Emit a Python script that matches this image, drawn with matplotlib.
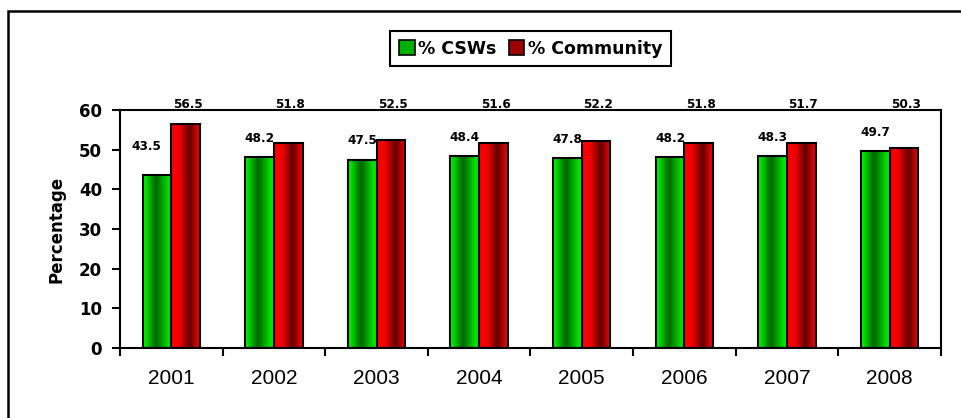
import matplotlib.pyplot as plt
import numpy as np
from matplotlib.colors import LinearSegmentedColormap
from matplotlib.patches import Rectangle, Patch

years = ['2001', '2002', '2003', '2004', '2005', '2006', '2007', '2008']
csw = [43.5, 48.2, 47.5, 48.4, 47.8, 48.2, 48.3, 49.7]
community = [56.5, 51.8, 52.5, 51.6, 52.2, 51.8, 51.7, 50.3]

plt.rcParams['font.family'] = ['DejaVu Sans']

green_cm = LinearSegmentedColormap.from_list(
    'g', [(0, '#00ff00'), (0.45, '#006400'), (1, '#00ff00')])
red_cm = LinearSegmentedColormap.from_list(
    'r', [(0, '#ff0000'), (0.3, '#ee0000'), (0.65, '#600000'), (1, '#ff0000')])

fig = plt.figure(figsize=(9.61, 4.18), dpi=100)
ax = fig.add_axes([0.1249, 0.1675, 0.979 - 0.1249, 0.5694])

x = np.arange(len(years))
w = 0.28
grad = np.linspace(0, 1, 64).reshape(1, -1)

b1 = ax.bar(x - w / 2, csw, w, facecolor='none', edgecolor='black', linewidth=1.5, zorder=3)
b2 = ax.bar(x + w / 2, community, w, facecolor='none', edgecolor='black', linewidth=1.5, zorder=3)
for bars, cm in ((b1, green_cm), (b2, red_cm)):
    for b in bars:
        x0, h = b.get_x(), b.get_height()
        ax.imshow(grad, cmap=cm, aspect='auto', extent=[x0, x0 + w, 0, h],
                  zorder=2, interpolation='bicubic')

ax.set_xlim(-0.5, len(years) - 0.5)
ax.set_ylim(0, 60)

for i, v in enumerate(csw):
    dy, dx = (7.4, -0.1) if i == 0 else (4.7, 0)
    ax.text(i - w / 2 + dx, v + dy, f'{v}', ha='center', va='center',
            fontsize=8.7, fontweight='bold', clip_on=False)
for i, v in enumerate(community):
    ax.text(i + w / 2 + 0.02, 61.5, f'{v}', ha='center', va='center',
            fontsize=8.7, fontweight='bold', clip_on=False)

ax.set_yticks(range(0, 61, 10))
ax.set_yticklabels([str(t) for t in range(0, 61, 10)], fontsize=12, fontweight='bold')
ax.set_xticks(x)
ax.set_xticklabels(years, fontsize=15, family=['Liberation Sans', 'DejaVu Sans'])
ax.tick_params(axis='x', which='major', length=0, pad=15)
ax.set_xticks(np.arange(-0.5, len(years)), minor=True)
ax.tick_params(axis='x', which='minor', length=6, width=1.5, direction='out')
ax.tick_params(axis='y', length=6, width=1.5, direction='out', pad=7)
for s in ax.spines.values():
    s.set_linewidth(1.5)
fig.text(56.5 / 961, 1 - 229 / 418, 'Percentage', rotation=90, ha='center', va='center',
         fontsize=12, fontweight='bold')

handles = [Patch(facecolor='#00b000', edgecolor='black', linewidth=1.2),
           Patch(facecolor='#a00000', edgecolor='black', linewidth=1.2)]
leg = fig.legend(handles, ['% CSWs', '% Community'], loc='center',
                 bbox_to_anchor=(530.5 / 961, 1 - 48.5 / 418), ncol=2, fancybox=False,
                 edgecolor='black', framealpha=1, handlelength=0.9, handleheight=0.9,
                 handletextpad=0.2, columnspacing=0.7, borderpad=0.5,
                 prop={'size': 12.5, 'weight': 'bold'})
leg.get_frame().set_linewidth(1.5)

fig.add_artist(Rectangle((8 / 961, -0.1), 1.1, 1.1 - 11 / 418, transform=fig.transFigure,
                         fill=False, edgecolor='black', linewidth=1.8, clip_on=False))

fig.savefig('out.png', dpi=100)
